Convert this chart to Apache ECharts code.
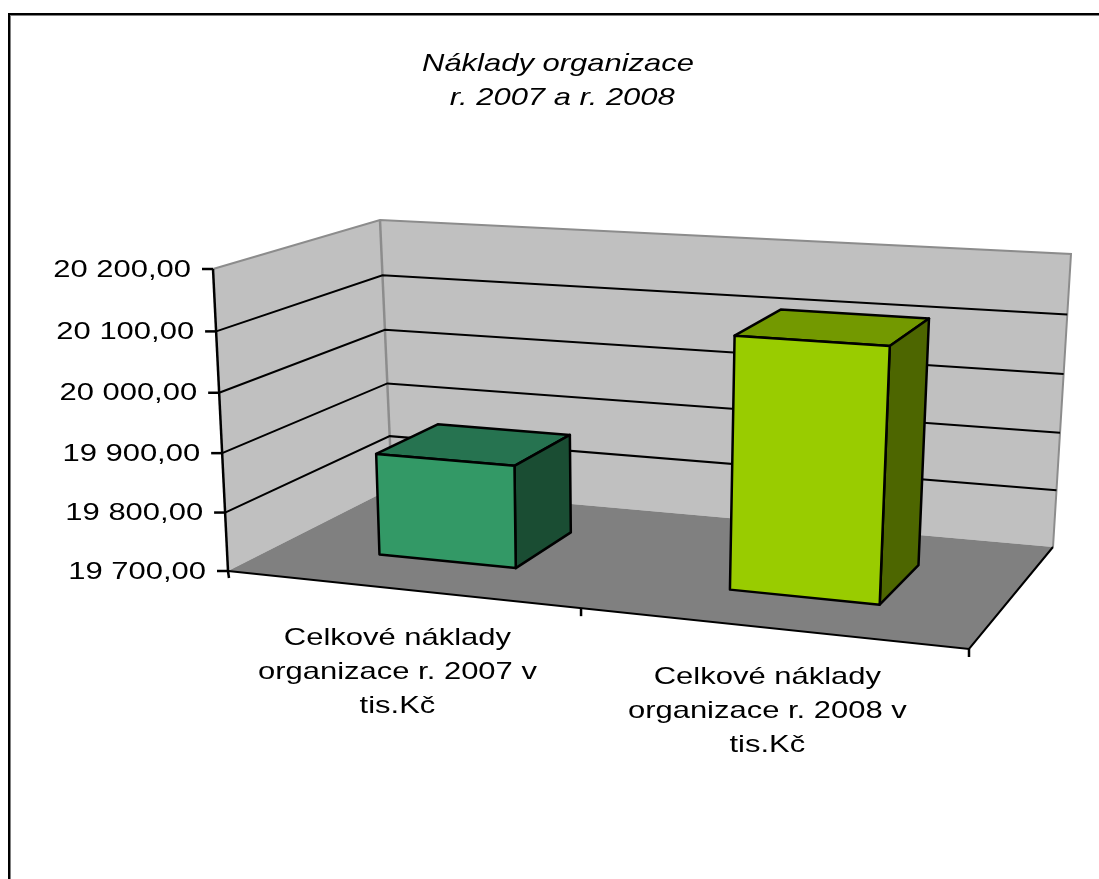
<!DOCTYPE html>
<html>
<head>
<meta charset="utf-8">
<title>Náklady organizace</title>
<script src="https://cdn.jsdelivr.net/npm/echarts@6/dist/echarts.min.js"></script>
<style>
html, body { margin: 0; padding: 0; background: #fff; }
#main { width: 1099px; height: 879px; filter: blur(0.5px); }
</style>
</head>
<body>
<div id="main"></div>
<script>
var categories = ['Celkové náklady\norganizace r. 2007 v\ntis.Kč', 'Celkové náklady\norganizace r. 2008 v\ntis.Kč'];
var values = [19875, 20115];
var frontColors = ['#339966', '#99CC00'];
var topColors = ['#267350', '#739900'];
var sideColors = ['#1A4D33', '#4D6600'];
var tickValues = [19700, 19800, 19900, 20000, 20100, 20200];
var tickLabels = ['19 700,00', '19 800,00', '19 900,00', '20 000,00', '20 100,00', '20 200,00'];
var titleLines = ['Náklady organizace', ' r. 2007 a r. 2008'];

// rohy 3D kvádru na obrazovce (pohled grafu)
var view = {
    fbl: [228, 571], fbr: [969, 649], ftl: [213, 269], ftr: [986, 319],
    bbl: [392, 488], bbr: [1053, 547], btl: [380, 220], btr: [1071, 254]
};
var PERSPECTIVE_X = 0.91;
var PERSPECTIVE_Y = 0.96;
var DEPTH_NEAR = 0.32, DEPTH_FAR = 0.72;
var BAR_RATIO = 0.4; // gap 150 %
var FONT = '"Liberation Sans", Arial, sans-serif';
var TEXT_SCALE = 1.29;

function mix(a, b, t) {
    return [a[0] + (b[0] - a[0]) * t, a[1] + (b[1] - a[1]) * t];
}

function bend(u, k) {
    return u * k / (1 - u + u * k);
}

function project(u, v, w) {
    var t = bend(u, PERSPECTIVE_X);
    var h = bend(v, PERSPECTIVE_Y);
    var front = mix(mix(view.fbl, view.fbr, t), mix(view.ftl, view.ftr, t), h);
    var back = mix(mix(view.bbl, view.bbr, t), mix(view.btl, view.btr, t), h);
    return mix(front, back, w);
}

function toUnit(rect, pt) {
    return [(pt[0] - rect.x) / rect.width, (rect.y + rect.height - pt[1]) / rect.height];
}

function line(points, color, width) {
    return {
        type: 'polyline',
        shape: { points: points },
        style: { stroke: color, lineWidth: width, fill: null }
    };
}

function face(points, color) {
    return {
        type: 'polygon',
        shape: { points: points },
        style: { fill: color, stroke: '#000', lineWidth: 2.5, lineJoin: 'round' }
    };
}

function renderWalls(params, api) {
    var mid = project(0.5, 0, 0);
    return {
        type: 'group',
        children: [
            { type: 'polygon', shape: { points: [view.fbl, view.ftl, view.btl, view.bbl] }, style: { fill: '#C0C0C0' } },
            { type: 'polygon', shape: { points: [view.bbl, view.btl, view.btr, view.bbr] }, style: { fill: '#C0C0C0' } },
            { type: 'polygon', shape: { points: [view.fbl, view.bbl, view.bbr, view.fbr] }, style: { fill: '#808080' } },
            line([view.ftl, view.btl, view.btr, view.bbr], '#8C8C8C', 2),
            line([view.btl, view.bbl], '#8C8C8C', 2.5),
            line([view.bbr, view.fbr, view.fbl], '#000', 2),
            line([view.fbl, [view.fbl[0] + 1, view.fbl[1] + 7]], '#000', 2.5),
            line([mid, [mid[0], mid[1] + 8]], '#000', 2.5),
            line([view.fbr, [view.fbr[0], view.fbr[1] + 8]], '#000', 2.5),
            line([view.fbl, view.ftl], '#000', 2.5)
        ]
    };
}

function renderGrid(params, api) {
    var rect = params.coordSys;
    var v = toUnit(rect, api.coord([0, api.value(0)]))[1];
    var a = project(0, v, 0);
    var b = project(0, v, 1);
    var c = project(1, v, 1);
    var children = [
        line([[a[0] - 11, a[1]], [a[0], a[1]]], '#000', 2.5),
        {
            type: 'text', x: a[0] - 22, y: a[1] + 1, scaleX: TEXT_SCALE,
            style: {
                text: tickLabels[params.dataIndex], fill: '#000', font: '24px ' + FONT,
                align: 'right', verticalAlign: 'middle'
            }
        }
    ];
    // horni hrana je jen okraj steny
    if (params.dataIndex > 0 && params.dataIndex < tickValues.length - 1) {
        children.push(line([a, b, c], '#000', 2));
    }
    return { type: 'group', children: children };
}

function renderBar(params, api) {
    var rect = params.coordSys;
    var i = api.value(0);
    var center = toUnit(rect, api.coord([i, api.value(1)]));
    var half = api.size([1, 0])[0] / rect.width * BAR_RATIO / 2;
    var u0 = center[0] - half, u1 = center[0] + half;
    var v = center[1];
    var near = DEPTH_NEAR, far = DEPTH_FAR;
    return {
        type: 'group',
        children: [
            face([project(u0, v, near), project(u1, v, near), project(u1, v, far), project(u0, v, far)], topColors[i]),
            face([project(u1, 0, near), project(u1, v, near), project(u1, v, far), project(u1, 0, far)], sideColors[i]),
            face([project(u0, 0, near), project(u1, 0, near), project(u1, v, near), project(u0, v, near)], frontColors[i])
        ]
    };
}

function renderCategoryLabel(params, api) {
    var rect = params.coordSys;
    var u = toUnit(rect, api.coord([api.value(0), tickValues[0]]))[0];
    var p = project(u, 0, 0);
    return {
        type: 'text', x: p[0] - 3, y: p[1] + 32, scaleX: TEXT_SCALE,
        style: {
            text: categories[params.dataIndex], fill: '#000', font: '24px ' + FONT,
            align: 'center', verticalAlign: 'top', lineHeight: 34
        }
    };
}

var myChart = echarts.init(document.getElementById('main'), null, { renderer: 'canvas' });
myChart.setOption({
    animation: false,
    backgroundColor: '#fff',
    grid: { left: 100, right: 100, top: 100, bottom: 100 },
    xAxis: { type: 'category', data: categories, show: false },
    yAxis: { type: 'value', min: tickValues[0], max: tickValues[tickValues.length - 1], interval: 100, show: false },
    graphic: [
        { type: 'rect', shape: { x: 8, y: 13, width: 1091, height: 2 }, style: { fill: '#000' } },
        { type: 'rect', shape: { x: 8, y: 15, width: 1091, height: 1 }, style: { fill: '#808080' } },
        { type: 'rect', shape: { x: 8, y: 13, width: 2, height: 866 }, style: { fill: '#000' } },
        { type: 'rect', shape: { x: 10, y: 15, width: 1, height: 864 }, style: { fill: '#808080' } },
        {
            type: 'text', x: 558, y: 64, scaleX: TEXT_SCALE,
            style: { text: titleLines[0], fill: '#000', font: 'italic 24px ' + FONT, align: 'center', verticalAlign: 'middle' }
        },
        {
            type: 'text', x: 558, y: 98, scaleX: TEXT_SCALE,
            style: { text: titleLines[1], fill: '#000', font: 'italic 24px ' + FONT, align: 'center', verticalAlign: 'middle' }
        }
    ],
    series: [
        { type: 'custom', name: 'steny', coordinateSystem: 'cartesian2d', data: [[0, tickValues[0]]], renderItem: renderWalls, silent: true, z: 1 },
        { type: 'custom', name: 'mrizka', coordinateSystem: 'cartesian2d', data: tickValues.map(function (t) { return [t]; }), encode: { x: [], y: 0 }, renderItem: renderGrid, silent: true, z: 2 },
        {
            type: 'custom', name: 'naklady', coordinateSystem: 'cartesian2d',
            data: values.map(function (val, i) { return [i, val]; }),
            encode: { x: 0, y: 1 }, renderItem: renderBar, z: 3
        },
        {
            type: 'custom', name: 'popisky', coordinateSystem: 'cartesian2d',
            data: categories.map(function (c, i) { return [i, tickValues[0]]; }),
            encode: { x: 0, y: 1 }, renderItem: renderCategoryLabel, silent: true, z: 4
        }
    ]
});
</script>
</body>
</html>
